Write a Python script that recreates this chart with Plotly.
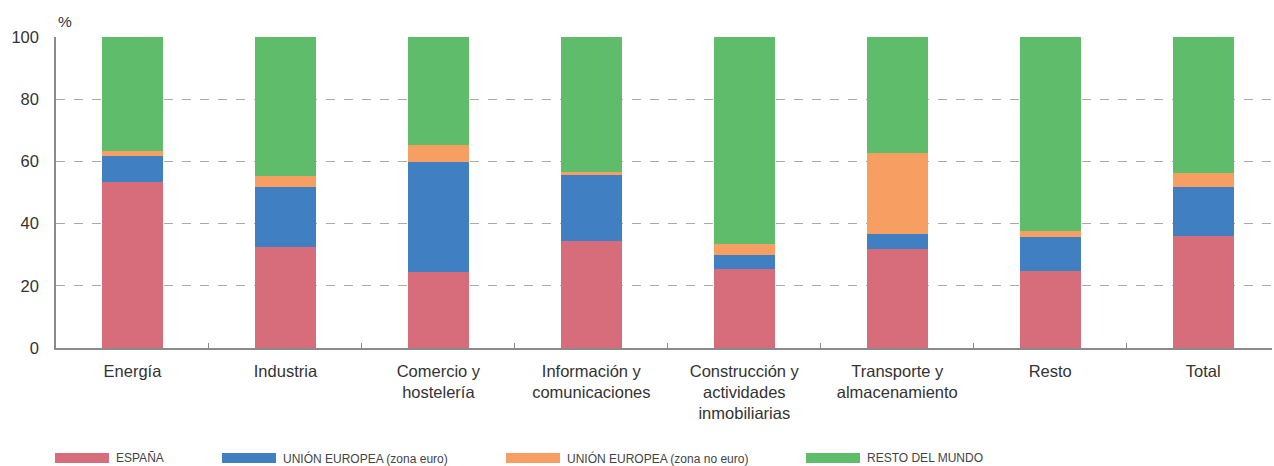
import plotly.graph_objects as go

categories = ["Energía", "Industria", "Comercio y<br>hostelería", "Información y<br>comunicaciones",
              "Construcción y<br>actividades<br>inmobiliarias", "Transporte y<br>almacenamiento", "Resto", "Total"]
espana = [53.5, 32.5, 24.4, 34.4, 25.3, 31.9, 24.8, 35.9]
ue_euro = [8.3, 19.3, 35.5, 21.1, 4.5, 4.9, 11.0, 16.0]
ue_no_euro = [1.6, 3.5, 5.4, 1.1, 3.7, 25.8, 1.7, 4.4]
resto_mundo = [36.6, 44.7, 34.7, 43.4, 66.5, 37.4, 62.5, 43.7]

series_names = ["ESPAÑA", "UNIÓN EUROPEA (zona euro)", "UNIÓN EUROPEA (zona no euro)", "RESTO DEL MUNDO"]
series_values = [espana, ue_euro, ue_no_euro, resto_mundo]
colors = ["#D76D7A", "#407FC2", "#F79F63", "#5FBC6A"]

font_family = "Liberation Sans, Arial, sans-serif"

fig = go.Figure()
for name, vals, col in zip(series_names, series_values, colors):
    fig.add_trace(go.Bar(x=categories, y=vals, name=name, marker=dict(color=col, line=dict(width=0)),
                         width=0.4, showlegend=False))

fig.update_layout(
    barmode="stack",
    width=1274, height=466,
    margin=dict(l=56, r=2, t=37, b=118),
    paper_bgcolor="white", plot_bgcolor="white",
    font=dict(family=font_family, size=16, color="#333333"),
    xaxis=dict(type="category", range=[-0.5, 7.45], showline=True, linecolor="#8a8a8a", linewidth=1.5,
               ticks="inside", tickson="boundaries", ticklen=5, tickcolor="#8a8a8a",
               showgrid=False, ticklabelstandoff=7, tickfont=dict(size=16.5, color="#333333")),
    yaxis=dict(range=[0, 100], dtick=20, showline=True, linecolor="#8a8a8a", linewidth=1.5,
               showgrid=True, gridcolor="#aaaaaa", griddash="dash", gridwidth=1,
               zeroline=False, ticks="", ticklabelstandoff=12,
               tickfont=dict(size=16.5, color="#333333")),
)

fig.add_annotation(text="%", xref="paper", yref="paper", x=0, y=1.0, yshift=5,
                   xanchor="left", yanchor="bottom", showarrow=False, xshift=0,
                   font=dict(size=15.5, color="#333333"))

# manual legend (swatches placed in paper coordinates)
plot_w = 1274 - 56 - 2
plot_h = 466 - 37 - 118
legend_x = [55, 222, 506, 806]
for name, col, lx in zip(series_names, colors, legend_x):
    x0 = (lx - 56) / plot_w
    x1 = (lx + 54 - 56) / plot_w
    y0 = (348 - 463) / plot_h
    y1 = (348 - 453) / plot_h
    fig.add_shape(type="rect", xref="paper", yref="paper", x0=x0, x1=x1, y0=y0, y1=y1,
                  fillcolor=col, line=dict(width=0))
    fig.add_annotation(text=name, xref="paper", yref="paper", x=(lx + 59 - 56) / plot_w,
                       y=(348 - 458) / plot_h, xanchor="left", yanchor="middle", showarrow=False,
                       font=dict(size=12, color="#444444"))

fig.write_html("out.html", config={"displayModeBar": False},
               post_script="document.body.style.margin='0';document.body.style.padding='0';")
